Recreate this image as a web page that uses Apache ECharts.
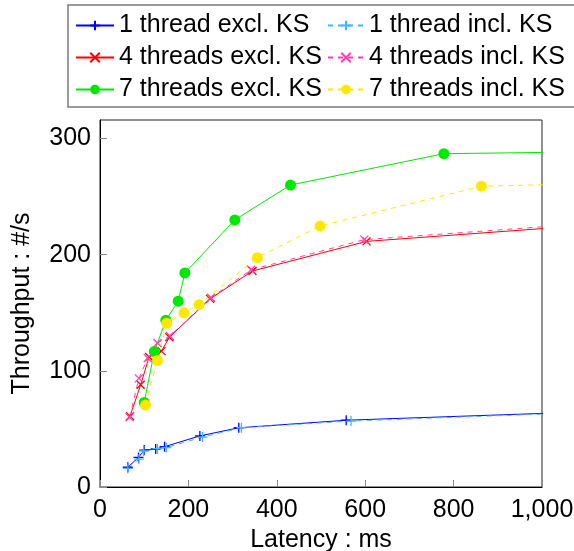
<!DOCTYPE html>
<html>
<head>
<meta charset="utf-8">
<script src="https://cdn.jsdelivr.net/npm/echarts@6/dist/echarts.min.js"></script>
<style>
html,body{margin:0;padding:0;background:#fff;}
#c{width:574px;height:551px;}
</style>
</head>
<body>
<div id="c"></div>
<script>
// Data (latency ms, throughput #/s)
var t1Excl = [[63,17],[87,25.5],[100,31.8],[126,32.7],[146,34.7],[226,44],[314,51],[557,57.5],[1200,66]];
var t1Incl = [[63,16],[88,24],[99,31],[130,33],[150,34],[232,43],[320,51],[568,56.8],[1200,65.5]];
var t4Excl = [[68,61],[92,88],[111,112],[139,117],[157,129],[249,162],[345,186],[603,211.5],[1200,228]];
var t4Incl = [[67,60],[88,93.5],[108,111],[130,124],[158,130],[251,163],[342,187],[598,213],[1200,229.5]];
var t7Excl = [[100,72.8],[123,116.7],[149,143.6],[177,160],[192,184.3],[305,230],[431,260],[778,287],[1200,289]];
var t7Incl = [[103,70.5],[130,109],[151,141],[190,150],[224,157],[356,197.5],[498,224.7],[863,259],[1200,262]];

var seriesNames = ['1 thread excl. KS','1 thread incl. KS','4 threads excl. KS','4 threads incl. KS','7 threads excl. KS','7 threads incl. KS'];
var xTicks = [0,200,400,600,800,1000];
var yTicks = [0,100,200,300];

var FONT = "'Liberation Sans', Arial, Helvetica, sans-serif";
var FS = 25;
var PLUS = 'path://M5,0L5,10M0,5L10,5';
var CROSS = 'path://M0,0L10,10M10,0L0,10';

function mk(name, data, color, dashed, symbol, size, strokeSym) {
  return {
    name: name, type: 'line', data: data, clip: true,
    symbol: symbol, symbolSize: size, showAllSymbol: true,
    lineStyle: {color: color, width: 1, type: dashed ? [5,5] : 'solid'},
    itemStyle: strokeSym ? {color: 'rgba(0,0,0,0)', borderColor: color, borderWidth: 1.3}
                         : {color: color, borderWidth: 0},
    emphasis: {disabled: true},
    animation: false
  };
}

var chart = echarts.init(document.getElementById('c'), null, {renderer: 'canvas'});
chart.setOption({
  animation: false,
  textStyle: {fontFamily: FONT},
  graphic: [{
    type: 'rect', z: 0, silent: true,
    shape: {x: 68, y: 5, width: 560, height: 102},
    style: {fill: '#fff', stroke: '#7a7a7a', lineWidth: 1.5}
  }],
  legend: [{
    orient: 'vertical', left: 75, top: 13, padding: 0, itemGap: 7,
    itemWidth: 38, itemHeight: 12,
    data: [seriesNames[0], seriesNames[2], seriesNames[4]],
    textStyle: {fontFamily: FONT, fontSize: FS, color: '#000', lineHeight: 25},
    z: 5
  },{
    orient: 'vertical', left: 327, top: 13, padding: 0, itemGap: 7,
    itemWidth: 36, itemHeight: 12,
    data: [seriesNames[1], seriesNames[3], seriesNames[5]],
    textStyle: {fontFamily: FONT, fontSize: FS, color: '#000', lineHeight: 25},
    z: 5
  }],
  grid: {left: 100, right: 32, top: 120, bottom: 64, show: true, borderColor: '#222', borderWidth: 1,
         backgroundColor: 'transparent', outerBoundsMode: 'none', containLabel: false},
  xAxis: {
    type: 'value', min: 0, max: 1000, interval: 200,
    name: 'Latency : ms', nameLocation: 'middle', nameGap: 40,
    nameTextStyle: {fontFamily: FONT, fontSize: FS, color: '#000'},
    axisLine: {show: true, lineStyle: {color: '#000', width: 1}},
    axisTick: {show: true, inside: true, length: 7, lineStyle: {color: '#8a8a8a'}},
    axisLabel: {fontFamily: FONT, fontSize: FS, color: '#000', margin: 11,
      formatter: function(v){ return v.toLocaleString('en-US'); }},
    splitLine: {show: false}
  },
  yAxis: {
    type: 'value', min: 0, max: 316, interval: 100,
    name: 'Throughput : #/s', nameLocation: 'middle', nameGap: 65,
    nameTextStyle: {fontFamily: FONT, fontSize: FS, color: '#000'},
    axisLine: {show: true, lineStyle: {color: '#000', width: 1}},
    axisTick: {show: true, inside: true, length: 7, lineStyle: {color: '#8a8a8a'}, customValues: yTicks},
    axisLabel: {fontFamily: FONT, fontSize: FS, color: '#000', margin: 9, customValues: yTicks},
    splitLine: {show: false}
  },
  series: [
    mk(seriesNames[0], t1Excl, '#0000ff', false, PLUS, 10, true),
    mk(seriesNames[2], t4Excl, '#ff0000', false, CROSS, 8, true),
    mk(seriesNames[4], t7Excl, '#00e800', false, 'circle', 11, false),
    mk(seriesNames[1], t1Incl, '#3fb8ff', true, PLUS, 10, true),
    mk(seriesNames[3], t4Incl, '#ff3fb4', true, CROSS, 8, true),
    mk(seriesNames[5], t7Incl, '#ffe800', true, 'circle', 11, false)
  ]
});
</script>
</body>
</html>
